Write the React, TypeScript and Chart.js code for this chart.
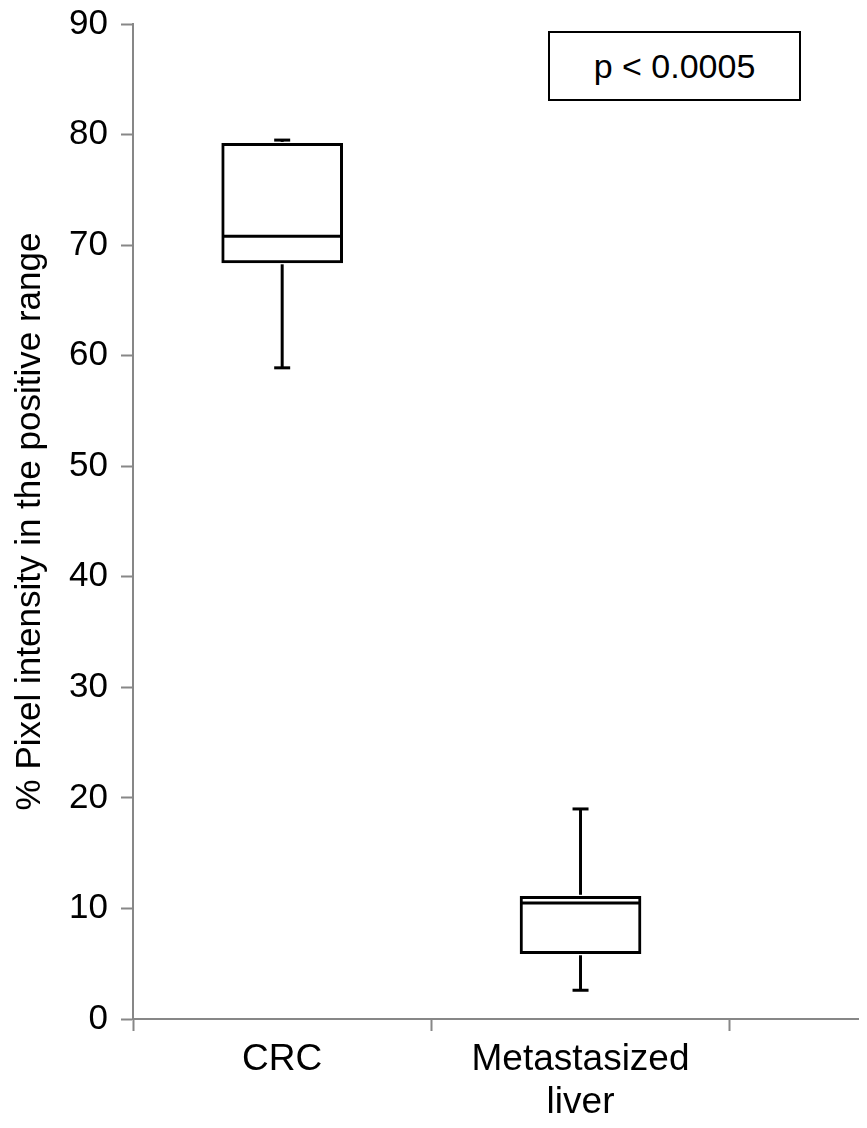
import React, { useEffect, useRef } from "react";
import { Chart, registerables } from "chart.js";

Chart.register(...registerables);

// ---- data ----
const CATEGORIES: (string | string[])[] = ["CRC", ["Metastasized", "liver"]];
const POSITIONS = [0.5, 1.5];
const MINS = [58.9, 2.6];
const Q1S = [68.4, 5.9];
const MEDIANS = [70.8, 10.5];
const Q3S = [79.2, 11.1];
const MAXES = [79.5, 19.0];
const Y_TICKS = [0, 10, 20, 30, 40, 50, 60, 70, 80, 90];
const X_TICKS = [0, 0.5, 1, 1.5, 2];
const X_MAX = 2.43;
const Y_TITLE = "% Pixel intensity in the positive range";
const P_TEXT = "p < 0.0005";

const FONT = "'Liberation Sans', Arial, sans-serif";
const AXIS_GRAY = "#878787";

const boxPlotPlugin = {
  id: "boxWhiskers",
  afterDatasetsDraw(chart: any) {
    const { ctx, scales } = chart;
    const x = scales.x;
    const y = scales.y;
    const meta = chart.getDatasetMeta(0);
    ctx.save();
    ctx.strokeStyle = "#000";
    ctx.lineWidth = 3;
    ctx.lineCap = "butt";
    POSITIONS.forEach((pos, i) => {
      const cx = x.getPixelForValue(pos);
      const el = meta.data[i];
      const half = el ? el.width / 2 - 1.5 : 58;
      const cap = 8;
      const line = (x1: number, y1: number, x2: number, y2: number) => {
        ctx.beginPath();
        ctx.moveTo(x1, y1);
        ctx.lineTo(x2, y2);
        ctx.stroke();
      };
      const yMed = y.getPixelForValue(MEDIANS[i]);
      line(cx - half, yMed, cx + half, yMed);
      const yQ3 = y.getPixelForValue(Q3S[i]);
      const yMax = y.getPixelForValue(MAXES[i]);
      const yQ1 = y.getPixelForValue(Q1S[i]);
      const yMin = y.getPixelForValue(MINS[i]);
      line(cx, yQ3 - 1.5, cx, yMax);
      line(cx - cap, yMax, cx + cap, yMax);
      line(cx, yQ1 + 1.5, cx, yMin);
      line(cx - cap, yMin, cx + cap, yMin);
    });
    ctx.restore();
  },
};

export default function App() {
  const canvasRef = useRef<HTMLCanvasElement | null>(null);

  useEffect(() => {
    if (!canvasRef.current) return;
    const chart = new Chart(canvasRef.current, {
      type: "bar",
      data: {
        datasets: [
          {
            data: POSITIONS.map((p, i) => ({ x: p, y: [Q1S[i], Q3S[i]] })) as any,
            backgroundColor: "#ffffff",
            borderColor: "#000000",
            borderWidth: 3,
            borderSkipped: false,
            barThickness: 121,
          },
        ],
      },
      options: {
        responsive: false,
        animation: false,
        events: [],
        layout: { padding: { top: 24, right: 9, left: 0, bottom: 0 } },
        plugins: {
          legend: { display: false },
          tooltip: { enabled: false },
        },
        scales: {
          x: {
            type: "linear",
            min: 0,
            max: X_MAX,
            offset: false,
            afterBuildTicks: (scale: any) => {
              scale.ticks = X_TICKS.map((v) => ({ value: v }));
            },
            afterFit: (scale: any) => {
              scale.height = 109;
            },
            grid: {
              offset: false,
              drawOnChartArea: false,
              drawTicks: true,
              tickLength: 12,
              tickWidth: 2,
              tickColor: (ctx: any) =>
                ctx.tick && ctx.tick.value % 1 !== 0 ? "rgba(0,0,0,0)" : AXIS_GRAY,
            },
            border: { display: true, color: AXIS_GRAY, width: 2 },
            ticks: {
              autoSkip: false,
              maxRotation: 0,
              minRotation: 0,
              padding: 7,
              color: "#000",
              font: { family: FONT, size: 37, lineHeight: 1.17 },
              callback: (value: any) => {
                const idx = POSITIONS.indexOf(Number(value));
                return idx >= 0 ? (CATEGORIES[idx] as any) : "";
              },
            },
          },
          y: {
            type: "linear",
            min: 0,
            max: 90,
            afterBuildTicks: (scale: any) => {
              scale.ticks = Y_TICKS.map((v) => ({ value: v }));
            },
            afterFit: (scale: any) => {
              scale.width = 133;
            },
            grid: {
              drawOnChartArea: false,
              drawTicks: true,
              tickLength: 12,
              tickWidth: 2,
              tickColor: AXIS_GRAY,
            },
            border: { display: true, color: AXIS_GRAY, width: 2 },
            ticks: {
              padding: 13,
              color: "#000",
              font: { family: FONT, size: 35, lineHeight: 0.6 },
            },
            title: {
              display: true,
              text: Y_TITLE,
              color: "#000",
              font: { family: FONT, size: 35 },
              padding: { top: 9, bottom: 0 },
            },
          },
        },
      },
      plugins: [boxPlotPlugin],
    });
    return () => chart.destroy();
  }, []);

  return (
    <div style={{ position: "absolute", left: 0, top: 0, width: 867, height: 1128, background: "#fff" }}>
      <canvas ref={canvasRef} width={867} height={1128} style={{ display: "block" }} />
      <div
        style={{
          position: "absolute",
          left: 548,
          top: 31,
          width: 253,
          height: 70,
          boxSizing: "border-box",
          border: "2px solid #000",
          background: "#fff",
          display: "flex",
          alignItems: "center",
          justifyContent: "center",
          fontFamily: FONT,
          fontSize: 34,
          color: "#000",
        }}
      >
        {P_TEXT}
      </div>
    </div>
  );
}
